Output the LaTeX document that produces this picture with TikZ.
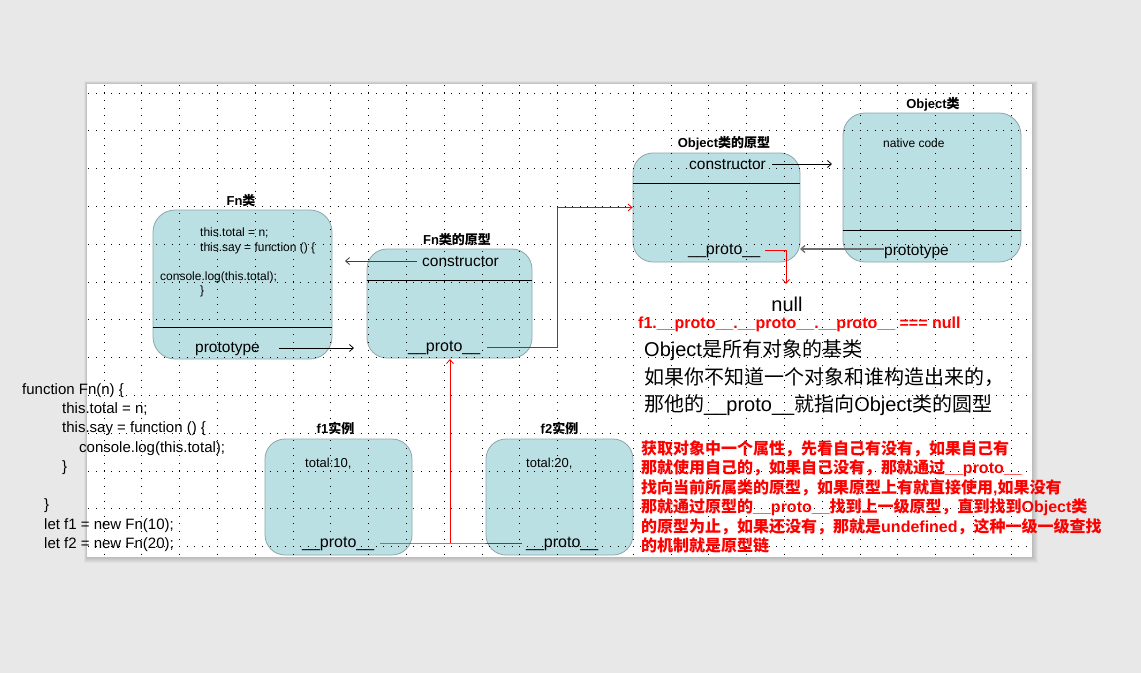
\documentclass[tikz,border=0pt]{standalone}
\usepackage{fontspec}
\setmainfont{Liberation Sans}
\newfontfamily\cjk{Noto Sans CJK SC}
\usetikzlibrary{arrows.meta}
\newcommand\zh[1]{{\cjk #1}}
\newcommand\pr{\_\_proto\_\_}
\definecolor{pagebg}{RGB}{232,232,232}
\definecolor{boxfill}{RGB}{187,224,228}
\definecolor{boxline}{RGB}{140,166,170}
\definecolor{darkline}{RGB}{64,64,64}
\definecolor{midline}{RGB}{110,110,110}

\tikzset{
  classbox/.style={draw=boxline, fill=boxfill, rounded corners=20pt, line width=0.8pt, inner sep=0},
  boxtitle/.style={font=\bfseries\fontsize{13}{15}\selectfont, anchor=base, inner sep=0},
  note/.style={font=\fontsize{12}{14}\selectfont, anchor=base west, inner sep=0},
  field/.style={font=\fontsize{15.5}{18}\selectfont, anchor=base west, inner sep=0},
  protofield/.style={font=\fontsize{16}{18}\selectfont, anchor=base west, inner sep=0},
  codeline/.style={font=\fontsize{15}{18}\selectfont, anchor=base west, inner sep=0},
  remark/.style={font=\fontsize{20}{24}\selectfont, anchor=base west, inner sep=0},
  redline/.style={font=\bfseries\fontsize{16}{19}\selectfont, text=red, anchor=base west, inner sep=0},
  link/.style={-{Straight Barb[length=4pt,width=7pt]}, line width=0.8pt},
  gridline/.style={line width=1pt, dash pattern=on 1pt off 6.56pt},
}

\begin{document}
\begin{tikzpicture}[x=1pt,y=-1pt]
\useasboundingbox (0,0) rectangle (1141,673);
\fill[pagebg] (0,0) rectangle (1141,673);

% page shadow and sheet
\foreach \i in {1,...,6}
  \fill[black,opacity=0.03] ({87-0.5*\i},{84-0.5*\i}) rectangle ({1032+\i},{557+\i});
\fill[white] (87,84) rectangle (1032,557);

% boxes
\node[classbox, minimum width=179pt, minimum height=149pt, rounded corners=22pt] (fn)   at (242.5,284.5) {};
\node[classbox, minimum width=165pt, minimum height=109pt] (fnp)  at (449.5,303.5) {};
\node[classbox, minimum width=167pt, minimum height=109pt] (objp) at (716.5,207.5) {};
\node[classbox, minimum width=178pt, minimum height=149pt, rounded corners=22pt] (obj)  at (932,187.5) {};
\node[classbox, minimum width=147pt, minimum height=116pt] (f1)   at (338.5,497) {};
\node[classbox, minimum width=147pt, minimum height=116pt] (f2)   at (559.5,497) {};

% dotted grid
\foreach \k in {0,...,24}
  \draw[gridline] ({104+37.8*\k},84.9) -- ({104+37.8*\k},557);
\foreach \k in {0,...,12}
  \draw[gridline] (88.4,{93+37.8*\k}) -- (1032,{93+37.8*\k});

% dividers
\draw[line width=0.9pt] (fn.west |- 0,327) -- (fn.east |- 0,327);
\draw[line width=0.9pt] (fnp.west |- 0,280) -- (fnp.east |- 0,280);
\draw[line width=0.9pt] (objp.west |- 0,183) -- (objp.east |- 0,183);
\draw[line width=0.9pt] (obj.west |- 0,230) -- (obj.east |- 0,230);

% titles
\node[boxtitle] (fnT)   at (241,205)   {Fn\zh{类}};
\node[boxtitle] (fnpT)  at (457,244)   {Fn\zh{类的原型}};
\node[boxtitle] (objpT) at (724,147)   {Object\zh{类的原型}};
\node[boxtitle] (objT)  at (933,108)   {Object\zh{类}};
\node[boxtitle] (f1T)   at (335.5,433) {f1\zh{实例}};
\node[boxtitle] (f2T)   at (559.5,433) {f2\zh{实例}};

% Fn class body
\node[note] (fnL1) at (200,236) {this.total = n;};
\node[note] (fnL2) at (200,251) {this.say = function () \{};
\node[note] (fnL3) at (160,280) {console.log(this.total);};
\node[note] (fnL4) at (200,294) {\}};
\node[field] (fnProto) at (195,352) {prototype};

% Fn prototype body
\node[field] (fnpCtor) at (422,266.5) {constructor};
\node[protofield] (fnpProto) at (408,351) {\pr};

% Object prototype body
\node[field] (objpCtor) at (689,169) {constructor};
\node[protofield] (objpProto) at (688,254) {\pr};

% Object class body
\node[note] (objCode) at (883,147) {native code};
\node[field] (objProto) at (884,255) {prototype};

% instances
\node[font=\fontsize{13}{15}\selectfont, anchor=base west, inner sep=0] (f1Total) at (305,467) {total:10,};
\node[font=\fontsize{13}{15}\selectfont, anchor=base west, inner sep=0] (f2Total) at (526,467) {total:20,};
\node[protofield] (f1Proto) at (302,547) {\pr};
\node[protofield] (f2Proto) at (526,547) {\pr};

% end of the chain
\node[font=\fontsize{20}{24}\selectfont, anchor=base, inner sep=0] (null) at (787,311.5) {null};
\node[redline] (chain) at (638,328) {f1.\pr.\pr.\pr{} === null};

% remarks
\node[remark] (rm1) at (644,356.5) {Object\zh{是所有对象的基类}};
\node[remark] (rm2) at (644,384)   {\zh{如果你不知道一个对象和谁构造出来的，}};
\node[remark] (rm3) at (644,411)   {\zh{那他的}\pr\zh{就指向}Object\zh{类的圆型}};

\node[redline] (ex1) at (641,454)   {\zh{获取对象中一个属性，先看自己有没有，如果自己有}};
\node[redline] (ex2) at (641,473.5) {\zh{那就使用自己的，如果自己没有，那就通过}\pr};
\node[redline] (ex3) at (641,493)   {\zh{找向当前所属类的原型，如果原型上有就直接使用},\zh{如果没有}};
\node[redline] (ex4) at (641,512.5) {\zh{那就通过原型的}\pr\zh{找到上一级原型，直到找到}Object\zh{类}};
\node[redline] (ex5) at (641,532)   {\zh{的原型为止，如果还没有，那就是}undefined\zh{，这种一级一级查找}};
\node[redline] (ex6) at (641,551.5) {\zh{的机制就是原型链}};

% source code
\node[codeline] (c1) at (22,394)   {function Fn(n) \{};
\node[codeline] (c2) at (62,413.3) {this.total = n;};
\node[codeline] (c3) at (62,432.6) {this.say = function () \{};
\node[codeline] (c4) at (79,452)   {console.log(this.total);};
\node[codeline] (c5) at (62,471)   {\}};
\node[codeline] (c6) at (44,509.8) {\}};
\node[codeline] (c7) at (44,529)   {let f1 = new Fn(10);};
\node[codeline] (c8) at (44,548.5) {let f2 = new Fn(20);};

% connector ends
\coordinate (aProtoTail) at (279,348);
\coordinate (aProtoTip)  at (354,348);
\coordinate (aCtorTail)  at (417,261);
\coordinate (aCtorTip)   at (345,261);
\coordinate (bProtoTail) at (487,347);
\coordinate (bBend)      at (557,347);
\coordinate (bTip)       at (objp.west);
\coordinate (cCtorTail)  at (772,164);
\coordinate (cCtorTip)   at (832,164);
\coordinate (dProtoTail) at (884,249);
\coordinate (dProtoTip)  at (800,249);
\coordinate (eTail)      at (765,250);
\coordinate (eBend)      at (786,250);
\coordinate (eTip)       at (786,284);
\coordinate (fLeft)      at (380,543);
\coordinate (fRight)     at (522,543);
\coordinate (fJoin)      at (450,543);
\coordinate (fTip)       at (450,359);

% connectors
\draw[link] (aProtoTail) -- (aProtoTip);
\draw[link, darkline] (aCtorTail) -- (aCtorTip);
\draw[link, red] (bProtoTail) -- (bBend) |- (bTip);
\draw[link] (cCtorTail) -- (cCtorTip);
\draw[link, midline, line width=1.3pt] (dProtoTail) -- (dProtoTip);
\draw[link, red] (eTail) -- (eBend) -- (eTip);
\draw[red, line width=0.8pt] (fLeft) -- (fJoin) -- (fRight);
\draw[link, red] (fJoin) -- (fTip);
\end{tikzpicture}
\end{document}
